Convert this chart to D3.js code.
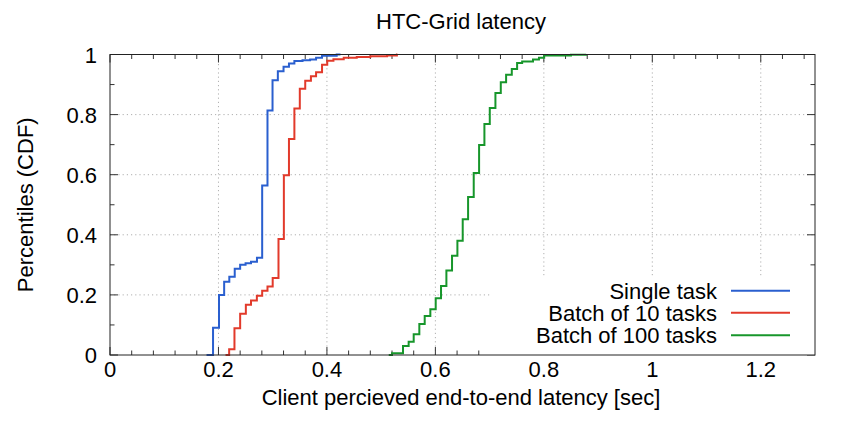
<!DOCTYPE html>
<html>
<head>
<meta charset="utf-8">
<script src="https://cdn.jsdelivr.net/npm/d3@7"></script>
<style>
  body { margin: 0; background: #fff; }
  text { font-family: "Liberation Sans", Arial, Helvetica, sans-serif; fill: #000; }
</style>
</head>
<body>
<div id="chart"></div>
<script>
// CDF steps: [latency sec, cumulative fraction]
const singleTask = [
  [0.178, 0], [0.190, 0.091], [0.201, 0.20], [0.2105, 0.244], [0.220, 0.26],
  [0.230, 0.287], [0.240, 0.30], [0.250, 0.305], [0.260, 0.31], [0.271, 0.324],
  [0.2806, 0.564], [0.2904, 0.814], [0.2997, 0.914], [0.3095, 0.944], [0.320, 0.959],
  [0.330, 0.97], [0.340, 0.978], [0.355, 0.981], [0.369, 0.983], [0.380, 0.989],
  [0.391, 0.996], [0.418, 1.0], [0.425, 1.0]
];
const batch10 = [
  [0.213, 0], [0.2197, 0.019], [0.2295, 0.089], [0.240, 0.137], [0.2505, 0.167],
  [0.260, 0.181], [0.2708, 0.197], [0.2806, 0.214], [0.2904, 0.228], [0.300, 0.256],
  [0.3107, 0.386], [0.3206, 0.598], [0.330, 0.719], [0.340, 0.82], [0.350, 0.886],
  [0.360, 0.913], [0.3705, 0.928], [0.380, 0.941], [0.391, 0.966], [0.4006, 0.979],
  [0.412, 0.984], [0.431, 0.989], [0.455, 0.992], [0.48, 0.994], [0.511, 0.997],
  [0.529, 1.0], [0.53, 1.0]
];
const batch100 = [
  [0.514, 0], [0.520, 0.0056], [0.5403, 0.03], [0.5507, 0.044], [0.560, 0.069],
  [0.5704, 0.103], [0.5803, 0.13], [0.5907, 0.152], [0.6006, 0.189], [0.6104, 0.23],
  [0.6203, 0.281], [0.6307, 0.33], [0.6406, 0.38], [0.6504, 0.452], [0.6603, 0.526],
  [0.6707, 0.606], [0.6806, 0.699], [0.6904, 0.769], [0.7003, 0.822], [0.7107, 0.872],
  [0.7206, 0.908], [0.7304, 0.933], [0.7409, 0.952], [0.7507, 0.972], [0.760, 0.977],
  [0.780, 0.983], [0.791, 0.989], [0.8006, 0.997], [0.85, 0.999], [0.878, 1.0]
];
const seriesNames = ["Single task", "Batch of 10 tasks", "Batch of 100 tasks"];
const seriesColors = ["#2a5fcf", "#e23a2b", "#17962b"];
const xTicks = [0, 0.2, 0.4, 0.6, 0.8, 1, 1.2];
const yTicks = [0, 0.2, 0.4, 0.6, 0.8, 1];

const width = 844, height = 430;
const margin = { left: 110, top: 54.5, right: 29, bottom: 75 };
const innerW = width - margin.left - margin.right;
const innerH = height - margin.top - margin.bottom;
const fontSize = "22px";

const svg = d3.select("#chart").append("svg")
  .attr("width", width)
  .attr("height", height);

const x = d3.scaleLinear().domain([0, 1.3]).range([margin.left, margin.left + innerW]);
const y = d3.scaleLinear().domain([0, 1]).range([margin.top + innerH, margin.top]);

// grid
const grid = svg.append("g");
xTicks.filter(t => t > 0).forEach(t => {
  grid.append("line")
    .attr("x1", x(t)).attr("x2", x(t))
    .attr("y1", y(0)).attr("y2", y(1))
    .attr("stroke", "#b0b0b0").attr("stroke-dasharray", "1.2,3");
});
yTicks.filter(t => t > 0 && t < 1).forEach(t => {
  grid.append("line")
    .attr("x1", x(0)).attr("x2", x(1.3))
    .attr("y1", y(t)).attr("y2", y(t))
    .attr("stroke", "#b0b0b0").attr("stroke-dasharray", "1.2,3");
});

// ticks (inward, mirrored)
const tickG = svg.append("g").attr("stroke", "#333").attr("stroke-width", 1);
d3.range(0, 1.3001, 0.04).forEach(t => {
  const major = Math.abs(t / 0.2 - Math.round(t / 0.2)) < 1e-6;
  const len = major ? 8 : 4.5;
  tickG.append("line").attr("x1", x(t)).attr("x2", x(t)).attr("y1", y(0)).attr("y2", y(0) - len);
  tickG.append("line").attr("x1", x(t)).attr("x2", x(t)).attr("y1", y(1)).attr("y2", y(1) + len);
});
d3.range(0, 1.0001, 0.1).forEach(t => {
  const major = Math.abs(t / 0.2 - Math.round(t / 0.2)) < 1e-6;
  const len = major ? 8 : 4.5;
  tickG.append("line").attr("y1", y(t)).attr("y2", y(t)).attr("x1", x(0)).attr("x2", x(0) + len);
  tickG.append("line").attr("y1", y(t)).attr("y2", y(t)).attr("x1", x(1.3)).attr("x2", x(1.3) - len);
});

// tick labels
xTicks.forEach(t => {
  svg.append("text")
    .attr("x", x(t)).attr("y", 377)
    .attr("text-anchor", "middle")
    .attr("font-size", fontSize)
    .text(d3.format("~g")(t));
});
yTicks.forEach(t => {
  svg.append("text")
    .attr("x", 97).attr("y", y(t) + 8)
    .attr("text-anchor", "end")
    .attr("font-size", fontSize)
    .text(d3.format("~g")(t));
});

// legend box (covers grid)
svg.append("rect")
  .attr("x", 490).attr("y", 278)
  .attr("width", x(1.3) - 490).attr("height", y(0) - 278)
  .attr("fill", "#fff");

// series
const line = d3.line()
  .x(d => x(d[0]))
  .y(d => y(d[1]))
  .curve(d3.curveStepAfter);

[singleTask, batch10, batch100].forEach((s, i) => {
  svg.append("path")
    .attr("d", line(s))
    .attr("fill", "none")
    .attr("stroke", seriesColors[i])
    .attr("stroke-width", 2);
});

// border
svg.append("rect")
  .attr("x", x(0)).attr("y", y(1))
  .attr("width", innerW).attr("height", innerH)
  .attr("fill", "none").attr("stroke", "#222").attr("stroke-width", 1);

// legend
const legendY = [290.7, 312.7, 335.3];
seriesNames.forEach((name, i) => {
  svg.append("text")
    .attr("x", 717).attr("y", legendY[i] + 8)
    .attr("text-anchor", "end")
    .attr("font-size", fontSize)
    .text(name);
  svg.append("line")
    .attr("x1", 731).attr("x2", 790)
    .attr("y1", legendY[i]).attr("y2", legendY[i])
    .attr("stroke", seriesColors[i]).attr("stroke-width", 2);
});

// titles
svg.append("text")
  .attr("x", 461).attr("y", 29)
  .attr("text-anchor", "middle")
  .attr("font-size", fontSize)
  .text("HTC-Grid latency");

svg.append("text")
  .attr("x", 461).attr("y", 405)
  .attr("text-anchor", "middle")
  .attr("font-size", fontSize)
  .text("Client percieved end-to-end latency [sec]");

svg.append("text")
  .attr("transform", `translate(33,${(y(0) + y(1)) / 2}) rotate(-90)`)
  .attr("text-anchor", "middle")
  .attr("font-size", fontSize)
  .text("Percentiles (CDF)");
</script>
</body>
</html>
